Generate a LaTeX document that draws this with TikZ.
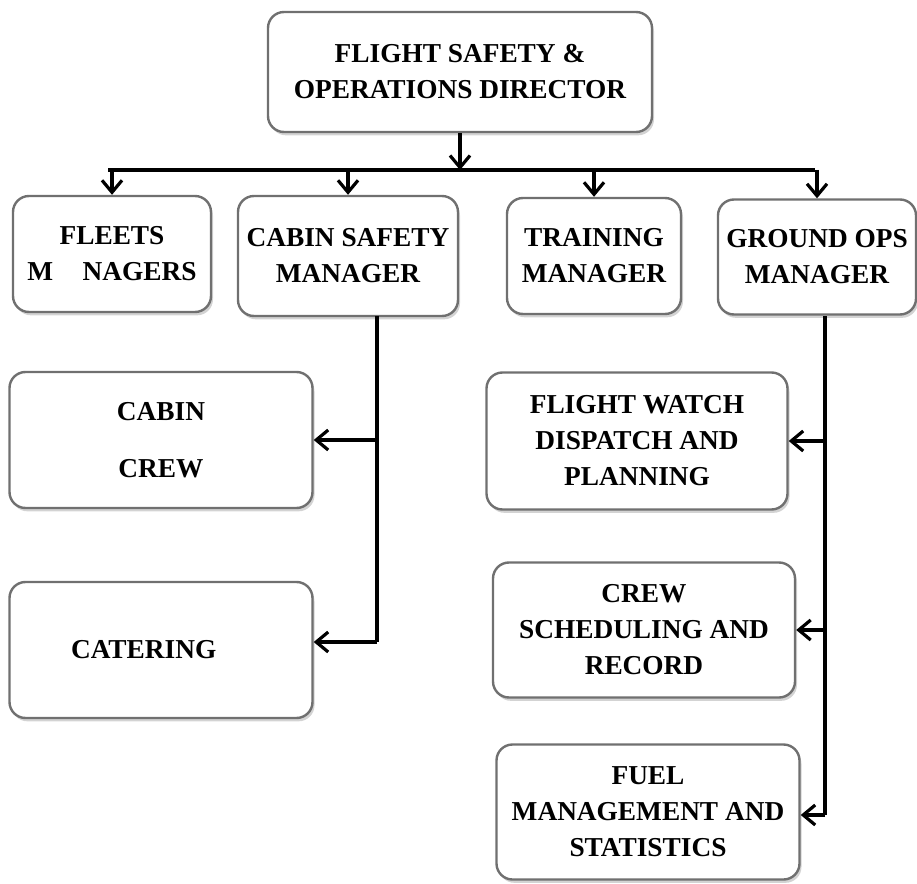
\documentclass[tikz,border=0pt]{standalone}
\usepackage{fontspec}
\setmainfont{Liberation Serif}
\usetikzlibrary{arrows.meta, positioning, shadows}
\definecolor{boxgray}{HTML}{707070}
\tikzset{
  >={Straight Barb[length=9pt,width=15pt,line width=2.4pt]},  % open barbed arrows
  % Boxes of the chart
  unit/.style={draw=boxgray,line width=1.8pt,rounded corners=12pt,fill=white,
    font=\fontsize{20.5}{27}\selectfont\bfseries,align=center,inner sep=0pt,
    drop shadow={opacity=0.35,shadow xshift=1.5pt,shadow yshift=-2.5pt}},
  % Connectors
  link/.style={line width=2.8pt,black},
  link arrow/.style={link,->}
}

\begin{document}
\begin{tikzpicture}[x=0.75pt,y=-0.75pt]
    \useasboundingbox (0,0) rectangle (917,884);
    % Director
    \node[unit,minimum width=384*0.75pt,minimum height=120*0.75pt] (dir) at (460,72)
      {FLIGHT SAFETY \&\\OPERATIONS DIRECTOR};
    % Managers
    \node[unit,minimum width=198*0.75pt,minimum height=116*0.75pt] (fleet) at (112,254)
      {FLEETS\\M\hspace{22pt}NAGERS};
    \node[unit,minimum width=220*0.75pt,minimum height=120*0.75pt] (cabin) at (348,256)
      {CABIN SAFETY\\MANAGER};
    \node[unit,minimum width=174*0.75pt,minimum height=116*0.75pt] (train) at (594,256)
      {TRAINING\\MANAGER};
    \node[unit,minimum width=198*0.75pt,minimum height=115*0.75pt] (ground) at (817,257)
      {GROUND OPS\\MANAGER};
    % Cabin side
    \node[unit,minimum width=303*0.75pt,minimum height=136*0.75pt] (crew) at (161,440)
      {CABIN\\[16pt]CREW};
    \node[unit,minimum width=303*0.75pt,minimum height=136*0.75pt] (cater) at (161,650)
      {CATERING\hspace*{26pt}\vspace*{6pt}};
    % Ground side
    \node[unit,minimum width=301*0.75pt,minimum height=137*0.75pt] (watch) at (637,441)
      {FLIGHT WATCH\\DISPATCH AND\\PLANNING};
    \node[unit,minimum width=302*0.75pt,minimum height=135*0.75pt] (sched) at (644,630)
      {CREW\\SCHEDULING AND\\RECORD};
    \node[unit,minimum width=303*0.75pt,minimum height=135*0.75pt] (fuel) at (648,812)
      {FUEL\\MANAGEMENT AND\\STATISTICS};
    % Bus under the director
    \coordinate (busL) at (108,170);
    \coordinate (busR) at (815,170);
    \coordinate (busM) at (dir.south |- busL);
    \draw[link arrow] (dir) -- (busM);
    \draw[link] (busL) -- (busR);
    \foreach \n in {fleet,cabin,train,ground}
      \draw[link arrow] (\n.north |- busL) -- (\n);
    % Cabin safety branch
    \coordinate (cabT) at (377,316);
    \coordinate (cabB) at (377,642);
    \draw[link] (cabT) -- (cabB);
    \draw[link arrow] (crew.east -| cabT) -- (crew);
    \draw[link arrow] (cabB) -- (cater.east |- cabB);
    % Ground ops branch
    \coordinate (gndT) at (825,316);
    \coordinate (gndB) at (825,815);
    \draw[link] (gndT) -- (gndB);
    \draw[link arrow] (watch.east -| gndT) -- (watch);
    \draw[link arrow] (sched.east -| gndT) -- (sched);
    \draw[link arrow] (gndB) -- (fuel.east |- gndB);
\end{tikzpicture}
\end{document}
